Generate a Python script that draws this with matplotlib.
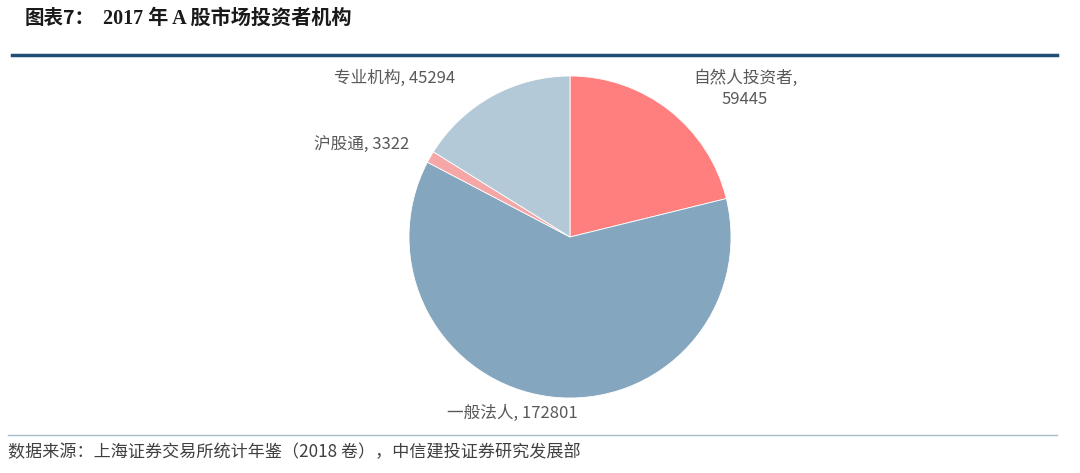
import matplotlib
import matplotlib.pyplot as plt

matplotlib.use("AGG")
plt.rcParams["font.family"] = ["Noto Sans CJK SC", "DejaVu Sans"]

categories = ["自然人投资者", "一般法人", "沪股通", "专业机构"]
values = [59445, 172801, 3322, 45294]
colors = ["#FF7F7F", "#84A6BF", "#F5A6A6", "#B4C9D7"]

# label anchor positions in figure pixels (x, y from top)
label_pos = [(745, 89), (512, 413), (362, 145), (395, 78)]
label_text = ["自然人投资者,\n59445", "一般法人, 172801", "沪股通, 3322", "专业机构, 45294"]

W, H = 1080, 473
fig = plt.figure(figsize=(W / 100, H / 100), dpi=100)

cx, cy, r = 570, 237, 161
ax = fig.add_axes([(cx - r) / W, (H - cy - r) / H, 2 * r / W, 2 * r / H])
ax.pie(values, colors=colors, startangle=90, counterclock=False,
       wedgeprops=dict(edgecolor="white", linewidth=0.6))
ax.set_xlim(-1, 1)
ax.set_ylim(-1, 1)
ax.set_aspect("equal")
ax.axis("off")

for (x, y), t in zip(label_pos, label_text):
    fig.text(x / W, 1 - y / H, t, ha="center", va="center", fontsize=12,
             color="#595959", linespacing=1.3)

# title
fig.text(25 / W, 1 - 19 / H, "图表7：", fontsize=14, fontweight="bold",
         color="#1a1a1a", va="center")
fig.text(103 / W, 1 - 19 / H, "2017 年 A 股市场投资者机构", fontsize=14.5,
         fontweight="bold", color="#1a1a1a", va="center",
         family=["Liberation Serif", "Noto Sans CJK SC"])

# rules
fig.add_artist(plt.Line2D([12 / W, 1057 / W], [1 - 55 / H, 1 - 55 / H],
                          color="#1F4E79", linewidth=2.5))
fig.add_artist(plt.Line2D([8 / W, 1057 / W], [1 - 435 / H, 1 - 435 / H],
                          color="#A9BCC9", linewidth=1))

fig.text(8 / W, 1 - 452 / H, "数据来源：上海证券交易所统计年鉴（2018 卷），中信建投证券研究发展部",
         fontsize=12.3, color="#404040", va="center")

fig.savefig("out.png", dpi=100)
